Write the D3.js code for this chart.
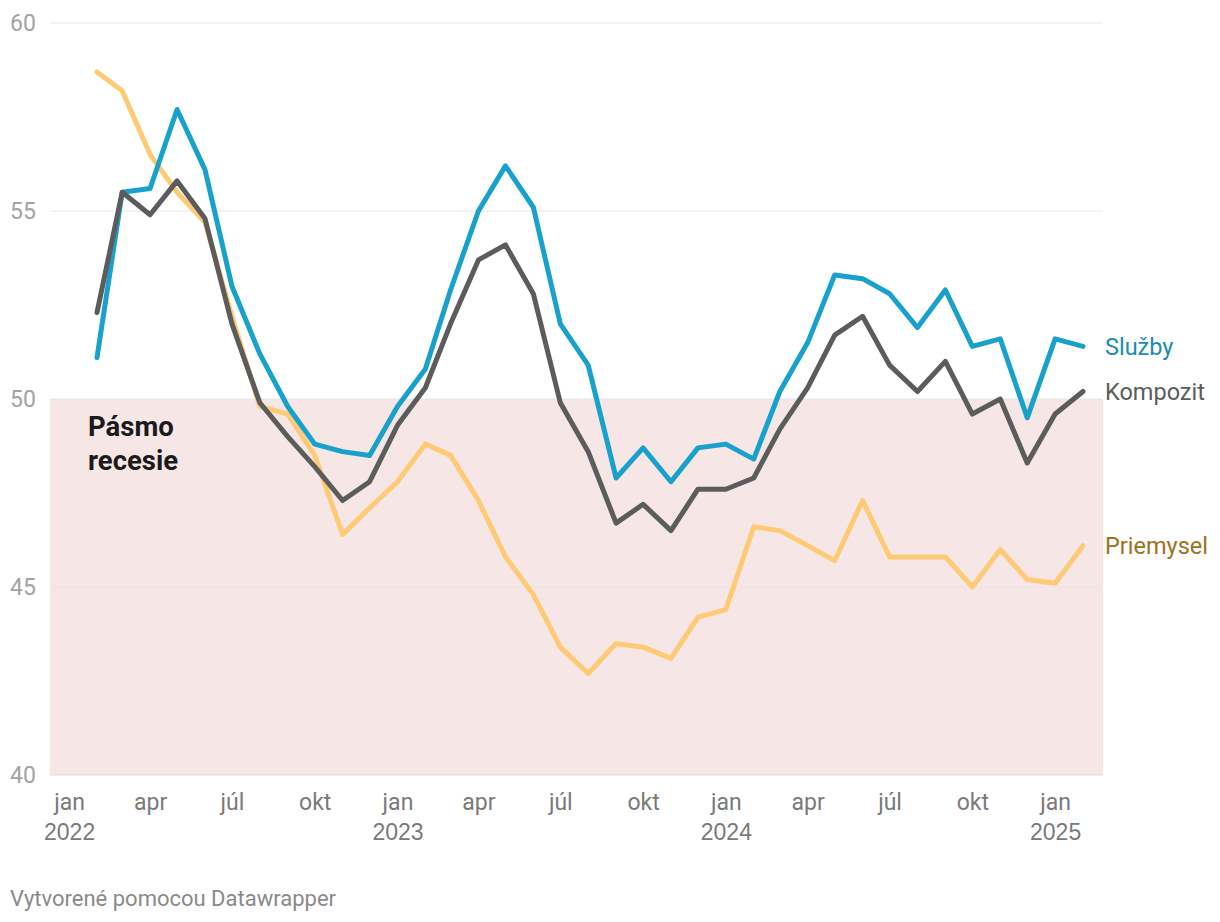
<!DOCTYPE html>
<html lang="sk">
<head>
<meta charset="UTF-8">
<title>PMI</title>
<script src="https://d3js.org/d3.v7.min.js"></script>
<style>
  body { margin: 0; background: #fff; }
  svg { font-family: Roboto, "Noto Sans", sans-serif; }
</style>
</head>
<body>
<svg></svg>
<script>
var width = 1220, height = 922;

var months = ["2022-02","2022-03","2022-04","2022-05","2022-06","2022-07","2022-08","2022-09","2022-10","2022-11","2022-12",
  "2023-01","2023-02","2023-03","2023-04","2023-05","2023-06","2023-07","2023-08","2023-09","2023-10","2023-11","2023-12",
  "2024-01","2024-02","2024-03","2024-04","2024-05","2024-06","2024-07","2024-08","2024-09","2024-10","2024-11","2024-12",
  "2025-01","2025-02"];

var sluzby = [51.1,55.5,55.6,57.7,56.1,53.0,51.2,49.8,48.8,48.6,48.5,
  49.8,50.8,52.9,55.0,56.2,55.1,52.0,50.9,47.9,48.7,47.8,48.7,
  48.8,48.4,50.2,51.5,53.3,53.2,52.8,51.9,52.9,51.4,51.6,49.5,
  51.6,51.4];

var kompozit = [52.3,55.5,54.9,55.8,54.8,52.0,49.9,49.0,48.2,47.3,47.8,
  49.3,50.3,52.0,53.7,54.1,52.8,49.9,48.6,46.7,47.2,46.5,47.6,
  47.6,47.9,49.2,50.3,51.7,52.2,50.9,50.2,51.0,49.6,50.0,48.3,
  49.6,50.2];

var priemysel = [58.7,58.2,56.5,55.5,54.7,52.2,49.8,49.6,48.5,46.4,47.1,
  47.8,48.8,48.5,47.3,45.8,44.8,43.4,42.7,43.5,43.4,43.1,44.2,
  44.4,46.6,46.5,46.1,45.7,47.3,45.8,45.8,45.8,45.0,46.0,45.2,
  45.1,46.1];

var yTicks = [40, 45, 50, 55, 60];
var monthNames = ["jan", "apr", "júl", "okt"];
var tickMonths = ["2022-01","2022-04","2022-07","2022-10","2023-01","2023-04","2023-07","2023-10",
  "2024-01","2024-04","2024-07","2024-10","2025-01"];

var series = [
  { name: "Priemysel", values: priemysel, color: "#ffca76", text: "#a0711c" },
  { name: "Služby", values: sluzby, color: "#18a1cd", text: "#1a8bb3" },
  { name: "Kompozit", values: kompozit, color: "#5c5c5c", text: "#5c5c5c" }
];

var parse = d3.timeParse("%Y-%m");
var dates = months.map(parse);

var left = 50, right = 1103;
var x = d3.scaleTime()
    .domain([dates[0], dates[dates.length - 1]])
    .range([97, 1083]);
var y = d3.scaleLinear().domain([40, 60]).range([775, 23]);

var svg = d3.select("svg").attr("width", width).attr("height", height);

// recession band
svg.append("rect")
    .attr("x", left).attr("y", y(50))
    .attr("width", right - left).attr("height", y(40) - y(50))
    .attr("fill", "#f7e6e6");

// grid
svg.append("g").selectAll("line")
    .data(yTicks)
    .enter().append("line")
    .attr("x1", left).attr("x2", right)
    .attr("y1", function (d) { return y(d); })
    .attr("y2", function (d) { return y(d); })
    .attr("stroke", function (d) { return d == 40 ? "#dcdcdc" : "#e6e6e6"; })
    .attr("stroke-width", 1);

svg.append("g").selectAll("text")
    .data(yTicks)
    .enter().append("text")
    .attr("x", 10)
    .attr("y", function (d) { return y(d); })
    .attr("dy", "0.36em")
    .attr("font-size", 23)
    .attr("fill", "#a3a3a3")
    .text(function (d) { return d; });

// x axis
var xAxis = d3.axisBottom(x)
    .tickValues(tickMonths.map(parse))
    .tickSize(0)
    .tickPadding(0)
    .tickFormat(function (d) { return monthNames[d.getMonth() / 3]; });

var gx = svg.append("g").attr("transform", "translate(0,796)").call(xAxis);
gx.select(".domain").remove();
gx.selectAll("text")
    .attr("font-size", 23)
    .attr("font-family", "Roboto, sans-serif")
    .attr("fill", "#7a7a7a")
    .attr("dy", "0.62em");
gx.selectAll(".tick").filter(function (d) { return d.getMonth() == 0; })
    .append("text")
    .attr("y", 825 - 796)
    .attr("dy", "0.64em")
    .attr("text-anchor", "middle")
    .attr("font-size", 23)
    .attr("fill", "#7a7a7a")
    .text(function (d) { return d.getFullYear(); });

// lines
var line = d3.line()
    .x(function (d, i) { return x(dates[i]); })
    .y(function (d) { return y(d); });

svg.append("g").selectAll("path")
    .data(series)
    .enter().append("path")
    .attr("d", function (s) { return line(s.values); })
    .attr("fill", "none")
    .attr("stroke", function (s) { return s.color; })
    .attr("stroke-width", 5)
    .attr("stroke-linejoin", "round")
    .attr("stroke-linecap", "round");

svg.append("g").selectAll("text")
    .data(series)
    .enter().append("text")
    .attr("x", 1105)
    .attr("y", function (s) { return y(s.values[s.values.length - 1]); })
    .attr("dy", "0.36em")
    .attr("font-size", 23.5)
    .attr("fill", function (s) { return s.text; })
    .text(function (s) { return s.name; });

// annotation
var ann = svg.append("text")
    .attr("x", 88)
    .attr("font-size", 27.5)
    .attr("font-weight", "bold")
    .attr("fill", "#1a1a1a");
ann.append("tspan").attr("x", 88).attr("y", 436).text("Pásmo");
ann.append("tspan").attr("x", 88).attr("y", 470).text("recesie");

// footer
svg.append("text")
    .attr("x", 10).attr("y", 898)
    .attr("dy", "0.36em")
    .attr("font-size", 22)
    .attr("fill", "#8a8a8a")
    .text("Vytvorené pomocou Datawrapper");
</script>
</body>
</html>
